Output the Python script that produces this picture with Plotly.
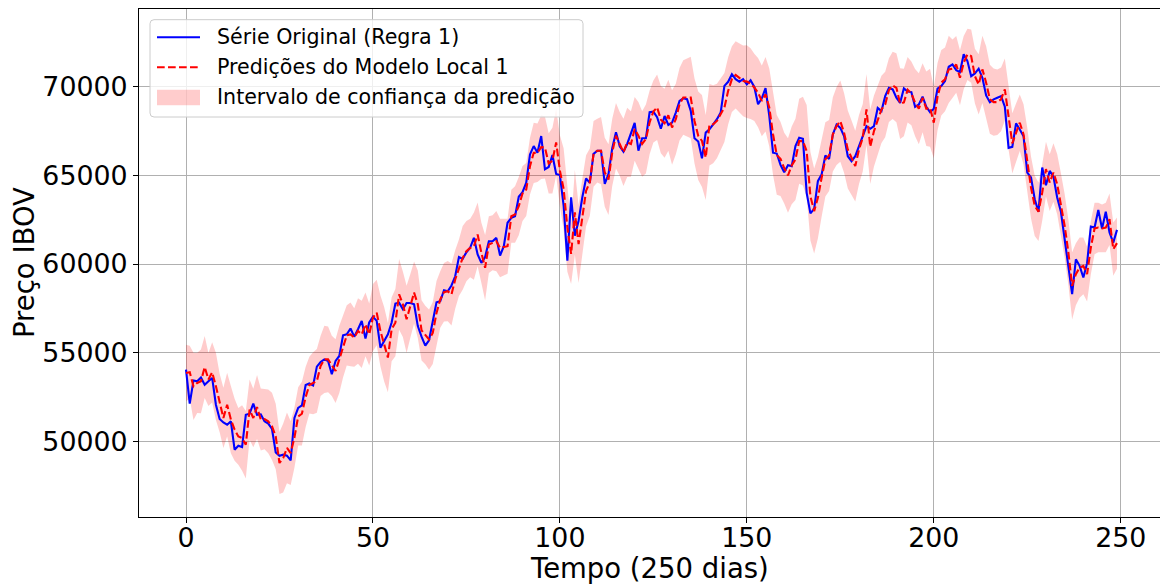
import plotly.graph_objects as go

# Dias de pregão (eixo x)
dias = list(range(250))

# Série original do IBOV (Regra 1)
serie_original = [
    54040, 52120, 53430, 53380, 53600, 53190, 53380, 53570, 52060, 51250,
    51060, 50930, 51120, 49520, 49740, 49670, 51490, 51550, 52120, 51490,
    51520, 51120, 50990, 50690, 49370, 49180, 49240, 49180, 48920, 51310,
    51880, 52020, 53170, 53260, 53150, 54210, 54470, 54620, 54530, 53780,
    54530, 54810, 55980, 56030, 56360, 55900, 56320, 56790, 55790, 56700,
    57030, 56790, 55280, 55660, 56030, 56700, 57770, 57820, 57450, 57800,
    57800, 57730, 56500, 55900, 55400, 55700, 56870, 57840, 57900, 58520,
    58460, 58790, 59310, 60400, 60290, 60670, 60920, 61480, 60540, 60070,
    60400, 61290, 61290, 61480, 60480, 61010, 62330, 62610, 62700, 63800,
    64060, 64590, 66190, 66660, 66280, 67230, 65350, 65480, 66160, 65090,
    65030, 63300, 60190, 63770, 61600, 62450, 63770, 64840, 64580, 66220,
    66400, 66400, 64520, 65090, 66540, 67440, 66650, 66350, 66780, 67350,
    67970, 66400, 67100, 67100, 68570, 68600, 68290, 67640, 68360, 67850,
    67990, 68550, 69210, 69360, 69310, 68650, 67100, 66920, 65970, 67420,
    67610, 67890, 68180, 68550, 70060, 70290, 70720, 70440, 70300, 70440,
    70150, 70380, 70000, 69020, 69360, 69930, 68370, 66290, 66240, 65600,
    65180, 65580, 65530, 66660, 67130, 67070, 64020, 62860, 63120, 64680,
    65060, 66130, 65940, 67320, 67880, 67690, 67220, 66090, 65810, 66090,
    66620, 67220, 67790, 67640, 67790, 68820, 68640, 69480, 69950, 69860,
    69390, 69100, 69920, 69740, 69710, 68880, 69010, 69450, 68880, 68580,
    68770, 69900, 70050, 70330, 71140, 71270, 70950, 70840, 71840, 71460,
    70610, 70760, 71030, 70520, 69520, 69140, 69300, 69390, 69480, 68880,
    66560, 66620, 67940, 67600, 67220, 65160, 64890, 63660, 62950, 65450,
    64450, 65260, 64940, 63760, 62950, 61400, 59900, 58300, 60270, 59900,
    59240, 60050, 62120, 62060, 63060, 62000, 62950, 61780, 61210, 61930,
]

# Predições do modelo local 1
predicoes = [
    53850, 53890, 53100, 53290, 53380, 54190, 53480, 53890, 53100, 52160,
    51310, 52060, 51220, 50650, 50270, 50180, 49800, 51780, 51310, 51930,
    51220, 51250, 51120, 50840, 50270, 48770, 49050, 49620, 49330, 50200,
    51400, 51550, 52500, 53170, 53270, 53400, 54250, 54620, 54620, 54250,
    53960, 54620, 55340, 55980, 56030, 55850, 56220, 56030, 56600, 56030,
    56980, 57260, 56220, 55470, 54720, 56320, 56690, 58290, 57730, 56880,
    57640, 58390, 57730, 56260, 56000, 55740, 56110, 57240, 58000, 58410,
    58470, 58280, 59130, 59790, 60350, 60730, 60910, 61010, 61670, 60630,
    59790, 61100, 61200, 61290, 60910, 60950, 61010, 62700, 62800, 63270,
    63980, 64210, 65530, 66280, 66280, 66600, 66580, 65680, 65840, 66870,
    65270, 64240, 62070, 60570, 62920, 61130, 62730, 64140, 64620, 66220,
    66400, 66400, 65180, 64770, 66310, 67250, 66780, 66310, 66870, 66780,
    67630, 67250, 66780, 67060, 68000, 68610, 68850, 68150, 67950, 68400,
    67710, 68180, 69020, 69400, 69400, 69400, 68080, 67240, 66950, 66010,
    67860, 67890, 68080, 68460, 68840, 69780, 70440, 70680, 70530, 70340,
    70300, 70190, 69970, 69680, 69210, 69590, 68840, 67330, 66160, 65940,
    65420, 65000, 65570, 65910, 66940, 66940, 66380, 63830, 62990, 63740,
    64870, 65910, 66130, 67320, 67790, 68070, 67410, 66470, 66000, 65530,
    66470, 67130, 68730, 66620, 67510, 68070, 68730, 69010, 69820, 70090,
    69950, 69060, 69120, 69840, 69630, 69110, 68770, 69390, 68770, 68820,
    67980, 69450, 70240, 70430, 70990, 71030, 71270, 70520, 71370, 71840,
    71740, 70610, 70140, 70990, 70240, 69300, 69140, 69140, 69300, 69860,
    68260, 66810, 67410, 67980, 67320, 65900, 64320, 63290, 62950, 64040,
    65360, 64600, 65170, 64510, 63380, 62160, 60650, 58770, 59430, 59800,
    59900, 59430, 60930, 62010, 62060, 62010, 62060, 62530, 60840, 61180,
]

# Meia largura do intervalo de confiança em torno de cada predição
meia_largura = [
    1600, 1500, 1900, 1700, 1800, 1750, 1500, 1700, 1900, 1650,
    1700, 1800, 1900, 1750, 1600, 1850, 1900, 1700, 1650, 1800,
    1750, 1700, 1800, 1900, 1850, 1750, 1950, 2000, 1800, 1700,
    1650, 1800, 1700, 1600, 1750, 1800, 1700, 1900, 1850, 1700,
    1800, 1900, 1750, 1700, 1800, 1650, 1850, 1900, 1800, 1750,
    1900, 1850, 2000, 2100, 1950, 1800, 1900, 2000, 1850, 1900,
    1800, 1750, 1900, 1700, 1650, 1700, 1750, 1800, 1600, 1650,
    1700, 1750, 1650, 1600, 1800, 1700, 1650, 1900, 1800, 1700,
    1850, 1600, 1550, 1700, 1650, 1600, 1550, 1500, 1600, 1650,
    1550, 1500, 1600, 1700, 1650, 1800, 1750, 1700, 1850, 1900,
    2000, 2300, 2500, 1700, 2400, 2200, 2100, 2000, 1900, 1850,
    1800, 1900, 1950, 2000, 1900, 1850, 1800, 1900, 1950, 1850,
    1800, 1900, 1850, 1950, 1800, 1750, 1850, 1900, 1950, 2000,
    2100, 2000, 2050, 2100, 2200, 2300, 2400, 2500, 2600, 2400,
    2300, 2200, 2100, 2000, 1950, 1900, 1850, 1900, 1950, 2000,
    2050, 2000, 1900, 1950, 2000, 2100, 2200, 2300, 2250, 2100,
    2000, 2100, 2200, 2300, 2400, 2500, 2600, 2500, 2400, 2300,
    2200, 2100, 2000, 2100, 2200, 2300, 2250, 2200, 2100, 2000,
    1950, 1900, 2000, 2100, 2000, 1950, 1900, 1850, 1800, 1900,
    1950, 2000, 1900, 1850, 1800, 1900, 2000, 1950, 2100, 2200,
    2000, 1900, 1850, 1800, 1900, 1650, 1600, 1550, 1500, 1450,
    1500, 1550, 1700, 1900, 2050, 1950, 1900, 1850, 1800, 1750,
    1800, 1700, 1650, 1600, 1700, 1800, 1750, 1700, 1650, 1600,
    1550, 1600, 1650, 1700, 1750, 1800, 1850, 1900, 1750, 1700,
    1600, 1550, 1500, 1450, 1400, 1350, 1400, 1450, 1500, 1450,
]

limite_inferior = [p - m for p, m in zip(predicoes, meia_largura)]
limite_superior = [p + m for p, m in zip(predicoes, meia_largura)]

x_ticks = [0, 50, 100, 150, 200, 250]
y_ticks = [50000, 55000, 60000, 65000, 70000]

nome_original = "Série Original (Regra 1)"
nome_predicao = "Predições do Modelo Local 1"
nome_intervalo = "Intervalo de confiança da predição"

FONTE = "DejaVu Sans"
AZUL = "#0000ff"
VERMELHO = "#ff0000"
ROSA = "rgba(255,0,0,0.2)"
TRACO = "7.7px,3.3px"

# Geometria da figura (pixels)
LARGURA, ALTURA = 1160, 585
M_ESQ, M_DIR, M_TOPO, M_BASE = 139, 0, 9, 68
area_w = LARGURA - M_ESQ - M_DIR
area_h = ALTURA - M_TOPO - M_BASE


def px_x(px):
    return (px - M_ESQ) / area_w


def px_y(py):
    return (ALTURA - M_BASE - py) / area_h


fig = go.Figure()

# Faixa do intervalo de confiança
fig.add_trace(go.Scatter(
    x=dias, y=limite_inferior, mode="lines",
    line=dict(width=0, color="rgba(255,0,0,0)"),
    hoverinfo="skip", showlegend=False,
))
fig.add_trace(go.Scatter(
    x=dias, y=limite_superior, mode="lines",
    line=dict(width=0, color="rgba(255,0,0,0)"),
    fill="tonexty", fillcolor=ROSA,
    name=nome_intervalo, showlegend=False,
))

# Série original
fig.add_trace(go.Scatter(
    x=dias, y=serie_original, mode="lines",
    line=dict(color=AZUL, width=2.1),
    name=nome_original, showlegend=False,
))

# Predições
fig.add_trace(go.Scatter(
    x=dias, y=predicoes, mode="lines",
    line=dict(color=VERMELHO, width=2.1, dash=TRACO),
    name=nome_predicao, showlegend=False,
))

# Legenda desenhada com formas e anotações
x0, x1 = px_x(150), px_x(583)
y_top, y_bot = px_y(19.7), px_y(117)
rx, ry = 4 / area_w, 4 / area_h
caixa = (
    f"M {x0 + rx},{y_top} L {x1 - rx},{y_top} Q {x1},{y_top} {x1},{y_top - ry} "
    f"L {x1},{y_bot + ry} Q {x1},{y_bot} {x1 - rx},{y_bot} "
    f"L {x0 + rx},{y_bot} Q {x0},{y_bot} {x0},{y_bot + ry} "
    f"L {x0},{y_top - ry} Q {x0},{y_top} {x0 + rx},{y_top} Z"
)
formas = [
    dict(type="path", path=caixa, xref="paper", yref="paper", layer="above",
         fillcolor="rgba(255,255,255,0.8)", line=dict(color="#cccccc", width=1)),
    dict(type="line", xref="paper", yref="paper", layer="above",
         x0=px_x(157), x1=px_x(200), y0=px_y(37.3), y1=px_y(37.3),
         line=dict(color=AZUL, width=2.1)),
    dict(type="line", xref="paper", yref="paper", layer="above",
         x0=px_x(157), x1=px_x(200), y0=px_y(67.3), y1=px_y(67.3),
         line=dict(color=VERMELHO, width=2.1, dash=TRACO)),
    dict(type="rect", xref="paper", yref="paper", layer="above",
         x0=px_x(157), x1=px_x(200), y0=px_y(105.3), y1=px_y(89.7),
         fillcolor=ROSA, line=dict(width=0)),
]

anotacoes = []
for texto, yc in [(nome_original, 37.3), (nome_predicao, 67.3), (nome_intervalo, 97.3)]:
    anotacoes.append(dict(
        text=texto, xref="paper", yref="paper", x=px_x(215), y=px_y(yc),
        xanchor="left", yanchor="middle", showarrow=False,
        font=dict(family=FONTE, size=20.6, color="black"),
    ))

# Títulos dos eixos
anotacoes.append(dict(
    text="Tempo (250 dias)", xref="paper", yref="paper",
    x=0.5, y=px_y(568), xanchor="center", yanchor="middle", showarrow=False,
    font=dict(family=FONTE, size=27.5, color="black"),
))
anotacoes.append(dict(
    text="Preço IBOV", xref="paper", yref="paper",
    x=px_x(24), y=px_y(263), xanchor="center", yanchor="middle", showarrow=False,
    textangle=-90, font=dict(family=FONTE, size=27.5, color="black"),
))

eixo_comum = dict(
    showgrid=True, gridcolor="#b0b0b0", gridwidth=1,
    showline=True, linecolor="black", linewidth=1.1,
    ticks="outside", ticklen=5, tickwidth=1.1, tickcolor="black",
    tickfont=dict(family=FONTE, size=26.8, color="black"),
    zeroline=False, automargin=False,
)

fig.update_layout(
    width=LARGURA, height=ALTURA,
    margin=dict(l=M_ESQ, r=M_DIR, t=M_TOPO, b=M_BASE),
    paper_bgcolor="white", plot_bgcolor="white",
    font=dict(family=FONTE, color="black"),
    xaxis=dict(
        **eixo_comum,
        range=[-12.57, 260.5], mirror=True,
        tickmode="array", tickvals=x_ticks,
        ticktext=[str(v) for v in x_ticks],
        ticklabelstandoff=-8,
    ),
    yaxis=dict(
        **eixo_comum,
        range=[45720, 74400],
        tickmode="array", tickvals=y_ticks,
        ticktext=[str(v) for v in y_ticks],
    ),
    shapes=formas,
    annotations=anotacoes,
    showlegend=False,
)

fig.write_html("out.html")
